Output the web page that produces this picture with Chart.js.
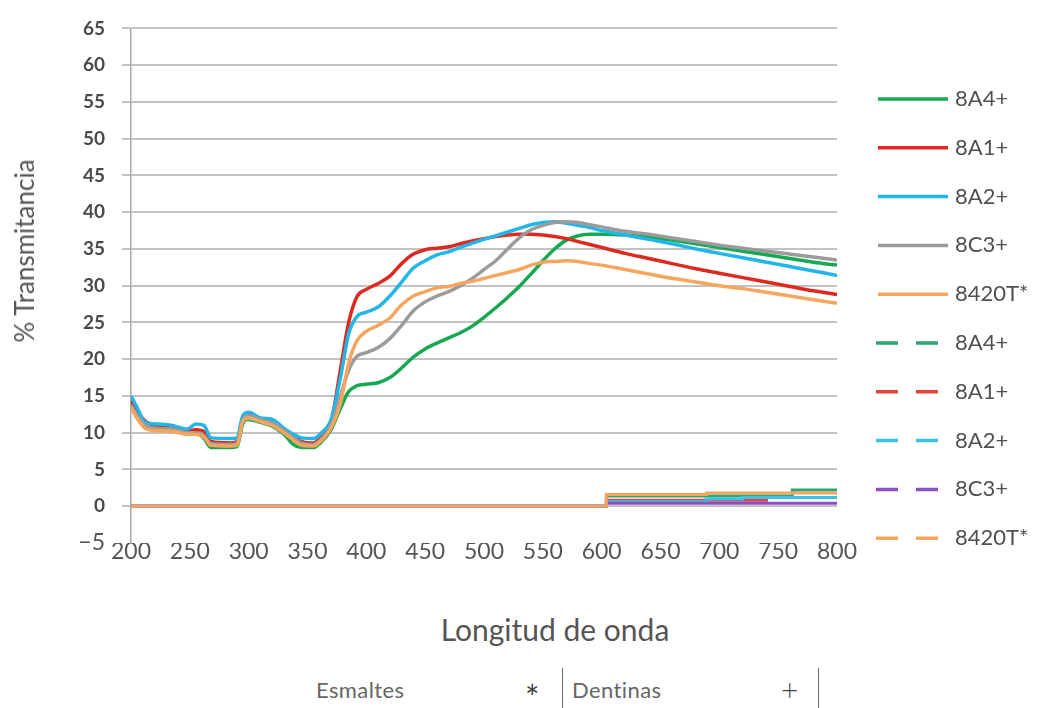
<!DOCTYPE html>
<html>
<head>
<meta charset="utf-8">
<script src="https://cdn.jsdelivr.net/npm/chart.js@4.4.0/dist/chart.umd.min.js"></script>
<style>
  body { margin: 0; background: #fff; }
  #wrap { position: relative; width: 1046px; height: 708px; font-family: Lato, "Open Sans", sans-serif; color: #555; }
  #chart { position: absolute; left: 0; top: 0; }
  .lbl { position: absolute; white-space: nowrap; }
  .foot { color: #666; font-size: 22px; letter-spacing: 0.4px; top: 676px; }
  .bar { position: absolute; top: 668px; width: 1px; height: 40px; background: #666; }
</style>
</head>
<body>
<div id="wrap">
  <canvas id="chart" width="1046" height="600"></canvas>
  <div class="lbl" style="left:24px; top:251px; font-size:26px; transform:translate(-50%,-50%) rotate(-90deg);">% Transmitancia</div>
  <div class="lbl" style="left:555px; top:611px; font-size:30px; transform:translateX(-50%);">Longitud de onda</div>
  <div class="lbl foot" style="left:316px;">Esmaltes</div>
  <div class="lbl" style="left:525px; top:676px; font-size:34px; color:#444;">*</div>
  <div class="bar" style="left:562px;"></div>
  <div class="lbl foot" style="left:572px;">Dentinas</div>
  <div class="lbl" style="left:781px; top:671px; font-size:30px; font-weight:300; color:#444;">+</div>
  <div class="bar" style="left:818px;"></div>
</div>
<script>
// wavelengths (nm) for the enamel (solid) curves
var waves = [200, 205, 212, 220, 235, 248, 255, 262, 268, 285, 290, 295, 300, 310, 320, 330, 338, 345, 355, 362,
  370, 378, 385, 392, 400, 410, 420, 430, 440, 450, 460, 470, 480, 490, 500, 510, 520, 530, 540, 550,
  560, 570, 580, 590, 600, 620, 640, 660, 680, 700, 720, 740, 760, 780, 800];

// % transmittance, solid series
var a4 = [13.6, 12.2, 10.8, 10.5, 10.4, 10.0, 10.1, 9.2, 8.0, 8.0, 8.1, 11.2, 11.8, 11.4, 10.9, 9.8, 8.4, 8.0, 8.0, 8.8,
  10.4, 13.3, 15.6, 16.4, 16.6, 16.8, 17.5, 18.8, 20.3, 21.4, 22.2, 22.9, 23.6, 24.5, 25.7, 27.0, 28.4, 29.9, 31.6, 33.4,
  35.0, 36.2, 36.8, 37.0, 37.0, 36.9, 36.6, 36.2, 35.7, 35.2, 34.7, 34.2, 33.7, 33.2, 32.8];
var a1 = [14.4, 13.0, 11.6, 11.0, 10.9, 10.2, 10.4, 10.2, 8.8, 8.6, 8.8, 12.0, 12.3, 11.7, 11.2, 10.2, 9.6, 8.8, 8.6, 9.6,
  11.4, 18.6, 25.0, 28.5, 29.5, 30.3, 31.3, 33.0, 34.3, 34.9, 35.1, 35.3, 35.7, 36.1, 36.4, 36.7, 36.9, 37.0, 37.0, 36.9,
  36.7, 36.4, 36.0, 35.6, 35.2, 34.4, 33.7, 33.0, 32.3, 31.7, 31.1, 30.5, 29.9, 29.3, 28.8];
var a2 = [15.0, 13.5, 11.4, 11.2, 11.0, 10.5, 11.2, 11.0, 9.3, 9.2, 9.3, 12.3, 12.8, 12.0, 11.8, 10.6, 9.8, 9.3, 9.2, 10.0,
  11.8, 17.5, 23.5, 25.8, 26.4, 27.1, 28.6, 30.5, 32.4, 33.4, 34.2, 34.6, 35.2, 35.8, 36.3, 36.8, 37.3, 37.8, 38.3, 38.6,
  38.7, 38.5, 38.2, 37.9, 37.5, 36.9, 36.3, 35.7, 35.0, 34.4, 33.8, 33.2, 32.6, 32.0, 31.4];
var c3 = [13.8, 12.4, 11.0, 10.6, 10.5, 10.0, 10.0, 9.6, 8.5, 8.4, 8.5, 11.7, 12.3, 11.8, 11.3, 10.3, 9.3, 8.6, 8.4, 9.2,
  11.0, 15.0, 18.5, 20.4, 20.9, 21.6, 22.8, 24.6, 26.6, 27.8, 28.6, 29.2, 30.0, 31.0, 32.2, 33.4, 35.0, 36.5, 37.6, 38.2,
  38.6, 38.7, 38.6, 38.3, 38.0, 37.4, 37.0, 36.5, 36.0, 35.5, 35.1, 34.7, 34.3, 33.9, 33.5];
var t420 = [13.4, 12.0, 10.6, 10.3, 10.2, 9.8, 9.8, 9.4, 8.3, 8.2, 8.3, 11.5, 12.0, 11.5, 11.0, 10.0, 9.0, 8.3, 8.2, 9.0,
  10.6, 14.0, 19.5, 22.5, 23.8, 24.6, 25.6, 27.4, 28.6, 29.2, 29.7, 29.9, 30.3, 30.6, 31.0, 31.4, 31.8, 32.2, 32.8, 33.2,
  33.3, 33.4, 33.3, 33.0, 32.8, 32.2, 31.6, 31.0, 30.5, 30.0, 29.6, 29.1, 28.6, 28.1, 27.6];

// wavelengths for the dentin (dashed) curves, stepped
var dentWaves = [200, 604, 689, 720, 740, 762, 800];
var a4D = [0, 1.4, 1.4, 1.4, 1.4, 2.2, 2.2];
var a1D = [0, 0.8, 0.8, 0.8, 1.2, 1.2, 1.2];
var a2D = [0, 0.6, 1.0, 1.2, 1.2, 1.2, 1.2];
var c3D = [0, 0.4, 0.4, 0.4, 0.4, 0.4, 0.4];
var t420D = [0, 1.6, 1.8, 1.8, 1.8, 1.8, 1.8];

var names = ['8A4+', '8A1+', '8A2+', '8C3+', '8420T*'];
var yMin = -5, yMax = 65, yStep = 5;
var xMin = 200, xMax = 800, xStep = 50;

function pairs(xs, ys) {
  return xs.map(function (x, i) { return { x: x, y: ys[i] }; });
}

function solid(label, ys, color, order) {
  return { label: label, data: pairs(waves, ys), borderColor: color, borderWidth: 3.5,
    pointRadius: 0, cubicInterpolationMode: 'monotone', order: order };
}
function dashed(label, ys, color, order) {
  return { label: label, data: pairs(dentWaves, ys), borderColor: color, borderWidth: 3,
    pointRadius: 0, stepped: true, order: order, legendDash: [22, 18] };
}

// legend on the right, solid then dashed entries
var sideLegend = {
  id: 'sideLegend',
  afterDraw: function (chart) {
    var ctx = chart.ctx;
    var x0 = chart.chartArea.right + 41;
    chart.data.datasets.forEach(function (ds, i) {
      var y = 99 + i * 48.8;
      ctx.save();
      ctx.strokeStyle = ds.borderColor;
      ctx.lineWidth = 3.5;
      ctx.beginPath();
      if (ds.legendDash) {
        ctx.setLineDash(ds.legendDash);
        ctx.moveTo(x0 - 2, y);
        ctx.lineTo(x0 + 60, y);
      } else {
        ctx.moveTo(x0, y);
        ctx.lineTo(x0 + 70, y);
      }
      ctx.stroke();
      ctx.setLineDash([]);
      ctx.fillStyle = '#505050';
      ctx.font = '22px Lato';
      ctx.textBaseline = 'middle';
      ctx.fillText(ds.label, x0 + 77, y);
      ctx.restore();
    });
  }
};

new Chart(document.getElementById('chart'), {
  type: 'line',
  data: {
    datasets: [
      solid(names[0], a4, '#17a852', 6),
      solid(names[1], a1, '#dc2a1f', 5),
      solid(names[2], a2, '#22b6e8', 4),
      solid(names[3], c3, '#9b9b9b', 3),
      solid(names[4], t420, '#f5a55e', 2),
      dashed(names[0], a4D, '#2aa872', 10),
      dashed(names[1], a1D, '#e0443c', 9),
      dashed(names[2], a2D, '#38c2ea', 8),
      dashed(names[3], c3D, '#8b4fc2', 7),
      dashed(names[4], t420D, '#f5a55e', 1)
    ]
  },
  options: {
    responsive: false,
    animation: false,
    layout: { padding: { top: 19, right: 209, bottom: 0, left: 0 } },
    plugins: { legend: { display: false }, tooltip: { enabled: false } },
    scales: {
      x: {
        type: 'linear', min: xMin, max: xMax,
        grid: { display: false, drawTicks: false },
        border: { display: false },
        ticks: { stepSize: xStep, color: '#555', font: { family: 'Lato', size: 23 }, padding: -5, maxRotation: 0 },
        afterFit: function (scale) { scale.height = 57; }
      },
      y: {
        min: yMin, max: yMax,
        grid: {
          color: function (c) { return c.tick && c.tick.value === yMin ? 'rgba(0,0,0,0)' : '#c2c2c2'; },
          lineWidth: 2, tickLength: 9
        },
        border: { display: true, color: '#a8a8a8', width: 1.5 },
        ticks: {
          stepSize: yStep, padding: 17,
          color: function (c) { return c.tick && c.tick.value === yMin ? '#555' : '#4a4a4a'; },
          font: function (c) {
            return c.tick && c.tick.value === yMin ? { family: 'Lato', size: 23 } : { family: 'Lato', size: 19, weight: 'bold' };
          },
          callback: function (v) { return v < 0 ? '\u2212' + Math.abs(v) : v; }
        },
        afterFit: function (scale) { scale.width = 131; }
      }
    }
  },
  plugins: [sideLegend]
});
</script>
</body>
</html>
